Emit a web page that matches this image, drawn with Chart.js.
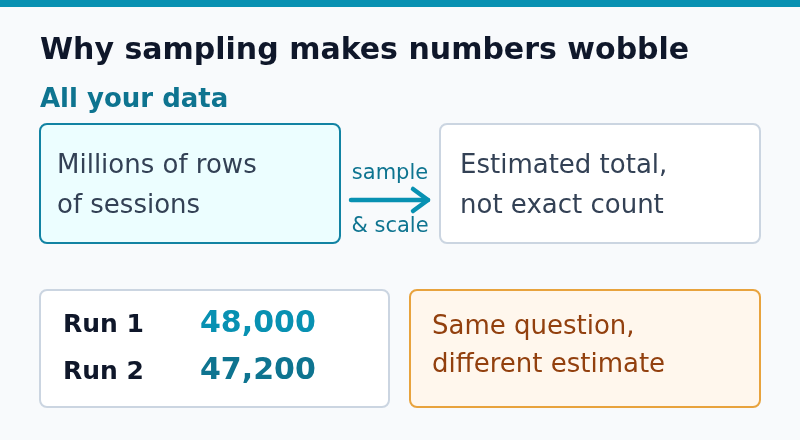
<!DOCTYPE html>
<html>
<head>
<meta charset="utf-8">
<script src="https://cdn.jsdelivr.net/npm/chart.js@4"></script>
<style>
  html, body { margin: 0; padding: 0; background: #f8fafc; }
  canvas { display: block; }
</style>
</head>
<body>
<canvas id="diagram" width="800" height="440"></canvas>
<script>
// Diagram text and numbers
const title = 'Why sampling makes numbers wobble';
const sectionLabel = 'All your data';
const sourceLines = ['Millions of rows', 'of sessions'];
const resultLines = ['Estimated total,', 'not exact count'];
const arrowLabels = ['sample', '& scale'];
const runLabels = ['Run 1', 'Run 2'];
const runValues = [48000, 47200];
const runColors = ['#0891b2', '#0e7490'];
const noteLines = ['Same question,', 'different estimate'];

const FONT = '"DejaVu Sans", Verdana, sans-serif';

function roundBox(ctx, x, y, w, h, r, fill, stroke, lw) {
    ctx.beginPath();
    ctx.roundRect(x, y, w, h, r);
    ctx.fillStyle = fill;
    ctx.fill();
    ctx.lineWidth = lw;
    ctx.strokeStyle = stroke;
    ctx.stroke();
}

function text(ctx, str, x, y, size, weight, color, align) {
    ctx.font = `${weight} ${size}px ${FONT}`;
    ctx.fillStyle = color;
    ctx.textAlign = align || 'left';
    ctx.textBaseline = 'alphabetic';
    ctx.fillText(str, x, y);
}

const diagramPlugin = {
    id: 'diagram',
    beforeDraw(chart) {
        const ctx = chart.ctx;
        ctx.save();
        ctx.fillStyle = '#f8fafc';
        ctx.fillRect(0, 0, chart.width, chart.height);
        ctx.fillStyle = '#0891b2';
        ctx.fillRect(0, 0, chart.width, 7);
        ctx.restore();
    },
    afterDraw(chart) {
        const ctx = chart.ctx;
        const sx = chart.scales.x, sy = chart.scales.y;
        const X = v => sx.getPixelForValue(v);
        const Y = v => sy.getPixelForValue(v);
        ctx.save();

        text(ctx, title, X(40), Y(59), 30, 'bold', '#0f172a');
        text(ctx, sectionLabel, X(40), Y(107), 26, 'bold', '#0e7490');

        // top row boxes
        roundBox(ctx, X(40), Y(124), X(340) - X(40), Y(243) - Y(124), 7, '#ecfeff', '#1283a3', 2);
        roundBox(ctx, X(440), Y(124), X(760) - X(440), Y(243) - Y(124), 7, '#ffffff', '#cbd5e1', 2);
        sourceLines.forEach((s, i) => text(ctx, s, X(57), Y(173 + i * 40), 26, 'normal', '#334155'));
        resultLines.forEach((s, i) => text(ctx, s, X(460), Y(173 + i * 40), 26, 'normal', '#334155'));

        // arrow
        ctx.strokeStyle = '#0891b2';
        ctx.lineWidth = 4.5;
        ctx.lineCap = 'round';
        ctx.lineJoin = 'round';
        ctx.beginPath();
        ctx.moveTo(X(351), Y(200));
        ctx.lineTo(X(428), Y(200));
        ctx.stroke();
        ctx.beginPath();
        ctx.moveTo(X(413), Y(189));
        ctx.lineTo(X(428), Y(200));
        ctx.lineTo(X(413), Y(211));
        ctx.stroke();
        text(ctx, arrowLabels[0], X(390), Y(179), 21, 'normal', '#0e7490', 'center');
        text(ctx, arrowLabels[1], X(390), Y(232), 21, 'normal', '#0e7490', 'center');

        // bottom row boxes
        roundBox(ctx, X(40), Y(290), X(389) - X(40), Y(407) - Y(290), 7, '#ffffff', '#cbd5e1', 2);
        roundBox(ctx, X(410), Y(290), X(760) - X(410), Y(407) - Y(290), 7, '#fff7ed', '#e8a33d', 2);
        runLabels.forEach((s, i) => {
            text(ctx, s, X(63), Y(332 + i * 47), 25, 'bold', '#0f172a');
            text(ctx, runValues[i].toLocaleString('en-US'), X(200), Y(332 + i * 47), 30, 'bold', runColors[i]);
        });
        noteLines.forEach((s, i) => text(ctx, s, X(432), Y(334 + i * 38), 26, 'normal', '#92400e'));

        ctx.restore();
    }
};

new Chart(document.getElementById('diagram'), {
    type: 'scatter',
    data: { datasets: [{ data: [] }] },
    options: {
        responsive: false,
        animation: false,
        layout: { padding: 0 },
        plugins: { legend: { display: false }, tooltip: { enabled: false } },
        scales: {
            x: { type: 'linear', min: 0, max: 800, display: false },
            y: { type: 'linear', min: 0, max: 440, reverse: true, display: false }
        }
    },
    plugins: [diagramPlugin]
});
</script>
</body>
</html>
